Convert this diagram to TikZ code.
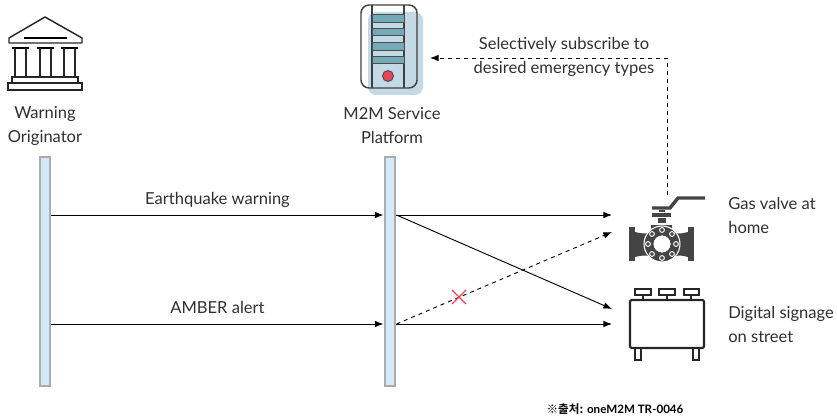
\documentclass[tikz,border=0pt]{standalone}
\usepackage{fontspec}
\setmainfont{Lato}
\newfontfamily\cjkfont{Noto Sans CJK KR}[BoldFont={Noto Sans CJK KR Bold}]
\usetikzlibrary{arrows.meta}
\definecolor{inktext}{HTML}{2F2F2F}
\definecolor{barfill}{HTML}{D3E9F8}
\definecolor{barline}{HTML}{A9ADAE}
\definecolor{shadowblue}{HTML}{C4D9E6}
\definecolor{slabteal}{HTML}{75AAB8}
\definecolor{valvegray}{HTML}{444444}
\definecolor{crossred}{HTML}{E8455A}
\tikzset{
	label text/.style={inktext,font=\fontsize{12.4}{18}\selectfont,align=center,inner sep=0pt},
	side text/.style={label text,align=left,anchor=west},
	msg text/.style={label text,text height=9pt,text depth=3pt},
	lifebar/.style={draw=barline,fill=barfill,line width=1.5pt,minimum width=8.2pt,minimum height=172pt,inner sep=0pt},
	msg/.style={-{Latex[length=6.5pt,width=5pt]},black,line width=0.7pt},
	msg dash/.style={msg,dashed},
	icon/.style={line width=1.1pt,draw=black!85},
	bolt/.style={fill=valvegray,draw=white,line width=0.7pt},
	slab/.style={fill=slabteal,draw=black!70,line width=0.7pt}
}

\begin{document}
\begin{tikzpicture}[x=0.75pt,y=-0.75pt]
	\useasboundingbox (0,0) rectangle (837,417);
	% actors
	\node[label text] (originator) at (45,125.5) {Warning\\Originator};
	\node[label text] (platform) at (392,125.5) {M2M Service\\Platform};
	\node[lifebar] (originatorbar) at (45,271.5) {};
	\node[lifebar] (platformbar) at (390,271.5) {};
	% bank
	\draw[icon,line join=round] (45,17) -- (82,38) -- (82,43) -- (9,43) -- (9,38) -- cycle;
	\draw[black,line width=2.2pt] (24,38) -- (67,38);
	\draw[black,line width=2.2pt] (12,48) -- (29,48) (37,48) -- (54,48) (61,48) -- (78,48);
	\draw[icon] (15,48) -- (15,77) (26,48) -- (26,77);
	\draw[icon] (40,48) -- (40,77) (51,48) -- (51,77);
	\draw[icon] (64,48) -- (64,77) (75,48) -- (75,77);
	\draw[icon] (12,83) rectangle (78,77);
	\draw[icon] (8,83) rectangle (82,90);
	% server
	\fill[shadowblue,rounded corners=6pt] (368,12) rectangle (423,95);
	\draw[icon,rounded corners=6pt,draw=black!75] (361,5) rectangle (417,88);
	\draw[icon,draw=black!75] (372,5) -- (372,88) (404,5) -- (404,88);
	\filldraw[slab] (372,14) rectangle (404,22);
	\filldraw[slab] (372,28) rectangle (404,35);
	\filldraw[slab] (372,42) rectangle (404,50);
	\filldraw[slab] (372,56) rectangle (404,63);
	\filldraw[fill=crossred,draw=black!70,line width=0.7pt] (388,76) circle (5.5);
	% valve
	\draw[valvegray,line width=2.6pt] (652,208) -- (670,208) -- (678,198) -- (705,198);
	\fill[valvegray] (659,210) rectangle (665,212);
	\fill[valvegray] (652,213) rectangle (671,217);
	\fill[valvegray] (658,218) rectangle (666,223);
	\fill[valvegray] (651,225) rectangle (672,229);
	\fill[valvegray] (629,227) rectangle (635,261);
	\fill[valvegray] (688,227) rectangle (694,261);
	\fill[valvegray] (635,232) .. controls (643,234) and (646,234) .. (652,232) -- (672,232) .. controls (678,234) and (681,234) .. (688,232) -- (688,257) .. controls (681,255) and (678,255) .. (672,257) -- (652,257) .. controls (646,255) and (643,255) .. (635,257) -- cycle;
	\filldraw[fill=valvegray,draw=white,line width=0.8pt] (662,244) circle (18);
	\filldraw[fill=white,draw=valvegray,line width=0.8pt] (662,244) circle (9);
	\draw[white,line width=0.6pt] (662,244) circle (8);
	\filldraw[bolt] (676,244) circle (2.4);
	\filldraw[bolt] (672,234) circle (2.4);
	\filldraw[bolt] (662,230) circle (2.4);
	\filldraw[bolt] (652,234) circle (2.4);
	\filldraw[bolt] (648,244) circle (2.4);
	\filldraw[bolt] (652,254) circle (2.4);
	\filldraw[bolt] (662,258) circle (2.4);
	\filldraw[bolt] (672,254) circle (2.4);
	% signage
	\draw[icon,rounded corners=1pt,line width=1.6pt] (630,300) rectangle (704,348);
	\draw[icon] (635,289) rectangle (651,295);
	\draw[icon] (659,289) rectangle (675,295);
	\draw[icon] (684,289) rectangle (699,295);
	\draw[icon] (643,295) -- (643,300) (667,295) -- (667,300) (691,295) -- (691,300);
	\draw[icon] (635,348) -- (635,360) -- (641,360) -- (641,348);
	\draw[icon] (693,348) -- (693,360) -- (699,360) -- (699,348);
	% free ends
	\coordinate (quake) at (0,215);
	\coordinate (amber) at (0,324);
	\coordinate (valvein) at (612,215);
	\coordinate (valvedash) at (612,232);
	\coordinate (signin) at (612,324);
	\coordinate (signslant) at (612,309);
	\coordinate (valvetop) at (667,195);
	\coordinate (bend) at (667,58);
	\coordinate (serverport) at (430,58);
	% messages
	\draw[msg] (originatorbar.east |- quake) -- (platformbar.west |- quake) node[midway,above=4.8pt,msg text] (quaketext) {Earthquake warning};
	\draw[msg] (originatorbar.east |- amber) -- (platformbar.west |- amber) node[midway,above=4.8pt,msg text] (ambertext) {AMBER alert};
	\draw[msg] (platformbar.east |- quake) -- (valvein);
	\draw[msg] (platformbar.east |- quake) -- (signslant);
	\draw[msg] (platformbar.east |- amber) -- (signin);
	\draw[msg dash] (platformbar.east |- amber) -- (valvedash);
	\draw[msg dash] (valvetop) -- (bend) -- (serverport);
	% cross
	\draw[crossred,line width=0.9pt] (452,290) -- (466,304) (452,304) -- (466,290);
	% text
	\node[label text] (subscribe) at (564,57) {Selectively subscribe to\\desired emergency types};
	\node[side text] (valvetext) at (728,215) {Gas valve at\\home};
	\node[side text] (signtext) at (728,324) {Digital signage\\on street};
	\node[inner sep=0pt,black,font=\fontsize{8.7}{10}\selectfont\bfseries] (source) at (615,409) {{\cjkfont ※출처:} oneM2M TR-0046};
\end{tikzpicture}
\end{document}
